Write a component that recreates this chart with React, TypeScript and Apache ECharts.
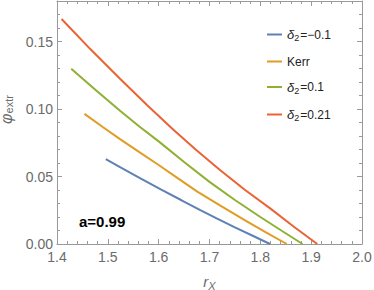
import React, { useEffect, useRef } from "react";
import * as echarts from "echarts";

const seriesNames = ["δ2=-0.1", "Kerr", "δ2=0.1", "δ2=0.21"];
const blueData = [[1.496, 0.0628], [1.524, 0.0569], [1.565, 0.0484], [1.606, 0.0401], [1.645, 0.0324], [1.681, 0.0252], [1.715, 0.0188], [1.75, 0.0123], [1.785, 0.0061], [1.819, 0.0]];
const orangeData = [[1.454, 0.0964], [1.49, 0.0867], [1.524, 0.0777], [1.562, 0.0680], [1.6, 0.0585], [1.638, 0.0486], [1.676, 0.0388], [1.723, 0.0280], [1.77, 0.0175], [1.811, 0.0086], [1.852, 0.0]];
const greenData = [[1.428, 0.1298], [1.476, 0.1140], [1.524, 0.0987], [1.562, 0.0870], [1.6, 0.0760], [1.65, 0.0608], [1.70, 0.0460], [1.75, 0.0326], [1.8, 0.0200], [1.842, 0.0098], [1.883, 0.0]];
const redData = [[1.409, 0.1667], [1.466, 0.1442], [1.524, 0.1224], [1.577, 0.1030], [1.629, 0.0846], [1.675, 0.0693], [1.72, 0.0550], [1.77, 0.0400], [1.82, 0.0262], [1.866, 0.0128], [1.912, 0.0]];
const colors = ["#5E81B5", "#E19C24", "#8FB032", "#EB6235"];
const xTicks = { min: 1.4, max: 2.0, interval: 0.1 };
const yTicks = { min: 0, max: 0.18, interval: 0.05 };
const annotation = "a=0.99";

const legendRich: Record<string, string> = {
  "δ2=-0.1": "{i|δ}{s|2}{n|=−0.1}",
  Kerr: "{n|Kerr}",
  "δ2=0.1": "{i|δ}{s|2}{n|=0.1}",
  "δ2=0.21": "{i|δ}{s|2}{n|=0.21}",
};

export default function App() {
  const ref = useRef<HTMLDivElement>(null);
  useEffect(() => {
    if (!ref.current) return;
    const chart = echarts.init(ref.current, null, { renderer: "svg" });
    const frameColor = "#9a9a9a";
    const labelColor = "#6b6b6b";
    const font = "Arial, 'Liberation Sans', sans-serif";
    const dataSets = [blueData, orangeData, greenData, redData];
    const frameAxis = {
      axisLine: { show: true, onZero: false, lineStyle: { color: frameColor, width: 1 } },
      axisTick: { show: true, inside: true, length: 5, lineStyle: { color: frameColor } },
      minorTick: { show: true, splitNumber: 5, length: 3, lineStyle: { color: frameColor } },
      splitLine: { show: false },
    };
    chart.setOption({
      animation: false,
      backgroundColor: "#ffffff",
      grid: { left: 57, right: 12, top: 1, bottom: 46, outerBoundsMode: "none", containLabel: false },
      legend: {
        orient: "vertical",
        left: 262,
        top: 23,
        itemGap: 13,
        icon: "rect",
        itemWidth: 15,
        itemHeight: 2,
        data: seriesNames,
        formatter: (n: string) => legendRich[n],
        textStyle: {
          fontFamily: font,
          color: "#222",
          fontSize: 12,
          rich: {
            i: { fontStyle: "italic", fontSize: 13, color: "#222", fontFamily: font },
            s: { fontSize: 9, padding: [7, 1, 0, 0], color: "#222", fontFamily: font },
            n: { fontSize: 12, color: "#222", fontFamily: font },
          },
        },
      },
      xAxis: [
        {
          type: "value",
          min: xTicks.min,
          max: xTicks.max,
          interval: xTicks.interval,
          position: "bottom",
          name: "{i|r}{s|X}",
          nameLocation: "middle",
          nameGap: 28,
          nameTextStyle: {
            rich: {
              i: { fontStyle: "italic", fontSize: 15, color: labelColor, fontFamily: font },
              s: { fontStyle: "italic", fontSize: 11, color: labelColor, padding: [8, 0, 0, 0], fontFamily: font },
            },
          },
          ...frameAxis,
          axisLabel: {
            color: labelColor,
            fontSize: 14,
            fontFamily: font,
            margin: 6,
            formatter: (v: number) => v.toFixed(1),
          },
        },
        {
          type: "value",
          min: xTicks.min,
          max: xTicks.max,
          interval: xTicks.interval,
          position: "top",
          ...frameAxis,
          axisLabel: { show: false },
        },
      ],
      yAxis: [
        {
          type: "value",
          min: yTicks.min,
          max: yTicks.max,
          interval: yTicks.interval,
          position: "left",
          name: "{i|φ}{s|extr}",
          nameLocation: "middle",
          nameGap: 30,
          nameRotate: 90,
          nameTextStyle: {
            padding: [0, 0, 0, 26],
            rich: {
              i: { fontStyle: "italic", fontSize: 16, lineHeight: 16, color: labelColor, fontFamily: font },
              s: { fontSize: 11, lineHeight: 11, color: labelColor, padding: [5, 0, 0, 0], fontFamily: font },
            },
          },
          ...frameAxis,
          axisLabel: {
            color: labelColor,
            fontSize: 14,
            fontFamily: font,
            margin: 4,
            showMaxLabel: false,
            formatter: (v: number) => v.toFixed(2),
          },
        },
        {
          type: "value",
          min: yTicks.min,
          max: yTicks.max,
          interval: yTicks.interval,
          position: "right",
          ...frameAxis,
          axisLabel: { show: false },
        },
      ],
      graphic: [
        {
          type: "text",
          left: 79,
          top: 214,
          style: { text: annotation, fontSize: 15, fontWeight: "bold", fill: "#000", fontFamily: font },
        },
      ],
      series: seriesNames.map((name, i) => ({
        name,
        type: "line",
        xAxisIndex: 0,
        yAxisIndex: 0,
        data: dataSets[i],
        showSymbol: false,
        symbol: "none",
        smooth: false,
        color: colors[i],
        lineStyle: { width: 2, color: colors[i] },
      })),
    });
    return () => chart.dispose();
  }, []);
  return <div ref={ref} style={{ position: "absolute", left: 0, top: 0, width: 374, height: 290 }} />;
}
